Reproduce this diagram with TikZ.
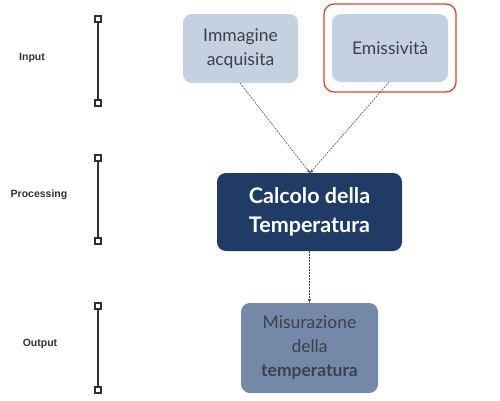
\documentclass[tikz,border=0pt]{standalone}
\usepackage{fontspec}
\setmainfont{Lato}
\newfontfamily\lblfont{Liberation Sans}
\usetikzlibrary{arrows.meta}
\definecolor{lightbox}{HTML}{C5D0E0}
\definecolor{darkbox}{HTML}{1F3B66}
\definecolor{midbox}{HTML}{7489A8}
\definecolor{txtgray}{HTML}{3D404B}
\definecolor{barcol}{HTML}{2E3138}
\definecolor{redframe}{HTML}{E0442C}
\begin{document}
\begin{tikzpicture}[x=1pt,y=-1pt,
  box/.style={rounded corners=9pt, inner sep=0pt, align=center, text=txtgray, font=\fontsize{17.5}{24}\selectfont},
  lbl/.style={font=\lblfont\bfseries\fontsize{10.5}{12}\selectfont, text=barcol},
  bar/.style={draw=barcol, line width=1.6pt},
  endsq/.style={draw=barcol, fill=white, line width=1.4pt, minimum size=6pt, inner sep=0pt},
  conn/.style={draw=black!75, line width=0.5pt, dashed, dash pattern=on 2pt off 1pt, -{Stealth[length=4pt,width=3pt]}}]
\useasboundingbox (0,0) rectangle (500,400);
% left bars
\foreach \n/\a/\b in {i/19/103, p/158/241, o/306/390}{
  \coordinate (\n top) at (98,\a);
  \coordinate (\n bot) at (98,\b);
  \draw[bar] (\n top) -- (\n bot);
  \node[endsq] at (\n top) {};
  \node[endsq] at (\n bot) {};
}
\node[lbl] (linput) at (32,58) {Input};
\node[lbl] (lproc) at (39,195) {Processing};
\node[lbl] (lout) at (40,344) {Output};
% boxes
\node[box, fill=lightbox, minimum width=115pt, minimum height=69pt] (img) at (240.5,48.5) {Immagine\\acquisita};
\node[draw=redframe, line width=1.3pt, rounded corners=10pt, minimum width=132pt, minimum height=88pt, inner sep=0pt] (red) at (390,48) {};
\node[box, fill=lightbox, minimum width=116pt, minimum height=68pt] (emi) at (390,48) {Emissività};
\node[box, fill=darkbox, text=white, minimum width=185pt, minimum height=78pt, font=\bfseries\fontsize{21.5}{29}\selectfont] (calc) at (309.5,212) {Calcolo della\\Temperatura};
\node[box, fill=midbox, minimum width=137pt, minimum height=90pt] (mis) at (309.5,348) {Misurazione\\della\\\textbf{temperatura}};
\coordinate (calctop) at (310,173);
\draw[conn] (240,83) -- (calctop);
\draw[conn] (389,82) -- (calctop);
\draw[conn] (calc.south) -- (mis.north);
\end{tikzpicture}
\end{document}
